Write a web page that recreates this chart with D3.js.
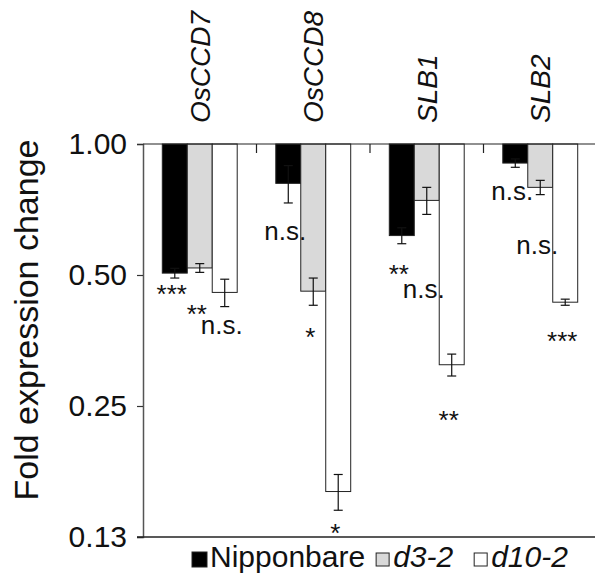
<!DOCTYPE html>
<html>
<head>
<meta charset="utf-8">
<script src="https://cdn.jsdelivr.net/npm/d3@7"></script>
<style>
  body { margin: 0; background: #fff; }
  svg { display: block; font-family: "Liberation Sans", Arial, sans-serif; }
</style>
</head>
<body>
<div id="chart"></div>
<script>
// genes and genotypes
var genes = ['OsCCD7', 'OsCCD8', 'SLB1', 'SLB2'];
var series = ['Nipponbare', 'd3-2', 'd10-2'];

// fold change (mean) and standard error per genotype, one value per gene
var nipponbare = [0.505, 0.812, 0.616, 0.904];
var nipponbareErr = [0.013, 0.080, 0.026, 0.020];
var d3_2 = [0.519, 0.459, 0.742, 0.795];
var d3_2Err = [0.012, 0.033, 0.053, 0.030];
var d10_2 = [0.456, 0.159, 0.311, 0.433];
var d10_2Err = [0.033, 0.015, 0.018, 0.007];

// significance labels
var nipponbareSig = ['***', 'n.s.', '**', 'n.s.'];
var d3_2Sig = ['**', '*', 'n.s.', 'n.s.'];
var d10_2Sig = ['n.s.', '*', '**', '***'];

// where each label sits (in fold-change units on the y axis)
var nipponbareSigY = [0.468, 0.623, 0.520, 0.771];
var d3_2SigY = [0.421, 0.372, 0.460, 0.579];
var d10_2SigY = [0.379, 0.132, 0.241, 0.366];

var yTicks = [1, 0.5, 0.25, 0.125];
var yTickLabels = ['1.00', '0.50', '0.25', '0.13'];

var fills = ['#000000', '#d9d9d9', '#ffffff'];

var means = [nipponbare, d3_2, d10_2];
var errs = [nipponbareErr, d3_2Err, d10_2Err];
var sigs = [nipponbareSig, d3_2Sig, d10_2Sig];
var sigYs = [nipponbareSigY, d3_2SigY, d10_2SigY];

var W = 595, H = 574;
var mLeft = 143, mRight = 597, mTop = 144, mBottom = 537;

var svg = d3.select('#chart').append('svg')
  .attr('width', W)
  .attr('height', H);

var x = d3.scaleBand()
  .domain(genes)
  .range([mLeft, mRight])
  .paddingInner(0.34)
  .paddingOuter(0.17);

var xs = d3.scaleBand()
  .domain(series)
  .range([0, x.bandwidth()]);

var y = d3.scaleLog().base(2)
  .domain([0.125, 1])
  .range([mBottom, mTop]);

var rows = [];
genes.forEach(function(g, gi) {
  series.forEach(function(s, si) {
    rows.push({
      gene: g, series: s, si: si,
      v: means[si][gi], e: errs[si][gi],
      sig: sigs[si][gi], sigY: sigYs[si][gi]
    });
  });
});

// bars hang down from 1.00
svg.append('g').selectAll('rect')
  .data(rows)
  .enter().append('rect')
  .attr('x', function(d) { return x(d.gene) + xs(d.series); })
  .attr('y', y(1))
  .attr('width', xs.bandwidth())
  .attr('height', function(d) { return y(d.v) - y(1); })
  .attr('fill', function(d) { return fills[d.si]; })
  .attr('stroke', '#222')
  .attr('stroke-width', 1);

// error bars
var eb = svg.append('g').attr('stroke', '#111').attr('stroke-width', 1.2);
rows.forEach(function(d) {
  var cx = x(d.gene) + xs(d.series) + xs.bandwidth() / 2;
  var y0 = y(d.v + d.e), y1 = y(d.v - d.e);
  eb.append('line').attr('x1', cx).attr('x2', cx).attr('y1', y0).attr('y2', y1);
  eb.append('line').attr('x1', cx - 4.5).attr('x2', cx + 4.5).attr('y1', y0).attr('y2', y0);
  eb.append('line').attr('x1', cx - 4.5).attr('x2', cx + 4.5).attr('y1', y1).attr('y2', y1);
});

// significance labels
svg.append('g').selectAll('text')
  .data(rows)
  .enter().append('text')
  .attr('x', function(d) { return x(d.gene) + xs(d.series) + xs.bandwidth() / 2 - 3; })
  .attr('y', function(d) { return y(d.sigY); })
  .attr('dy', function(d) { return d.sig === 'n.s.' ? '0.27em' : '0.6em'; })
  .attr('text-anchor', 'middle')
  .attr('font-size', 26)
  .attr('fill', '#111')
  .text(function(d) { return d.sig; });

// y axis
var yAxis = svg.append('g')
  .attr('transform', 'translate(' + mLeft + ',0)')
  .call(d3.axisLeft(y)
    .tickValues(yTicks)
    .tickFormat(function(d, i) { return yTickLabels[i]; })
    .tickSize(6)
    .tickPadding(10));
yAxis.select('.domain').attr('stroke', '#555').attr('stroke-width', 1.5);
yAxis.selectAll('.tick line').attr('stroke', '#333').attr('stroke-width', 1.2);
yAxis.selectAll('.tick text')
  .attr('font-size', 30)
  .attr('font-family', '"Liberation Sans", Arial, sans-serif')
  .attr('fill', '#111');

// top line at 1.00 with category separators
var topAxis = svg.append('g')
  .attr('transform', 'translate(0,' + mTop + ')');
topAxis.append('line')
  .attr('x1', mLeft).attr('x2', W)
  .attr('stroke', '#222').attr('stroke-width', 1.2);
topAxis.selectAll('.sep')
  .data(genes.slice(1))
  .enter().append('line')
  .attr('x1', function(g) { return x(g) - x.step() * x.paddingInner() / 2; })
  .attr('x2', function(g) { return x(g) - x.step() * x.paddingInner() / 2; })
  .attr('y1', 0).attr('y2', 9)
  .attr('stroke', '#222').attr('stroke-width', 1.2);

// bottom line
svg.append('line')
  .attr('x1', mLeft - 6).attr('x2', W)
  .attr('y1', mBottom).attr('y2', mBottom)
  .attr('stroke', '#222').attr('stroke-width', 1.5);

// gene labels (rotated, italic)
svg.append('g').selectAll('text')
  .data(genes)
  .enter().append('text')
  .attr('transform', function(g) {
    return 'translate(' + (x(g) + x.bandwidth() / 2 + 10) + ',123) rotate(-90)';
  })
  .attr('font-size', 28)
  .attr('font-style', 'italic')
  .attr('fill', '#111')
  .text(function(g) { return g; });

// y title
svg.append('text')
  .attr('transform', 'translate(38,320) rotate(-90)')
  .attr('text-anchor', 'middle')
  .attr('font-size', 34)
  .attr('fill', '#111')
  .text('Fold expression change');

// legend
var legend = svg.append('g').attr('transform', 'translate(192,567)');
var gaps = [10, 20, 0];
var lx = 0;
series.forEach(function(s, i) {
  var item = legend.append('g').attr('transform', 'translate(' + lx + ',0)');
  item.append('rect')
    .attr('x', 0).attr('y', -15)
    .attr('width', i === 0 ? 15 : 13).attr('height', i === 0 ? 15 : 13)
    .attr('transform', i === 0 ? null : 'translate(1,1)')
    .attr('fill', fills[i])
    .attr('stroke', '#222').attr('stroke-width', 1);
  var t = item.append('text')
    .attr('x', 18)
    .attr('font-size', 30)
    .attr('font-style', i === 0 ? 'normal' : 'italic')
    .attr('fill', '#111')
    .text(s);
  lx += 18 + t.node().getComputedTextLength() + gaps[i];
});
</script>
</body>
</html>
